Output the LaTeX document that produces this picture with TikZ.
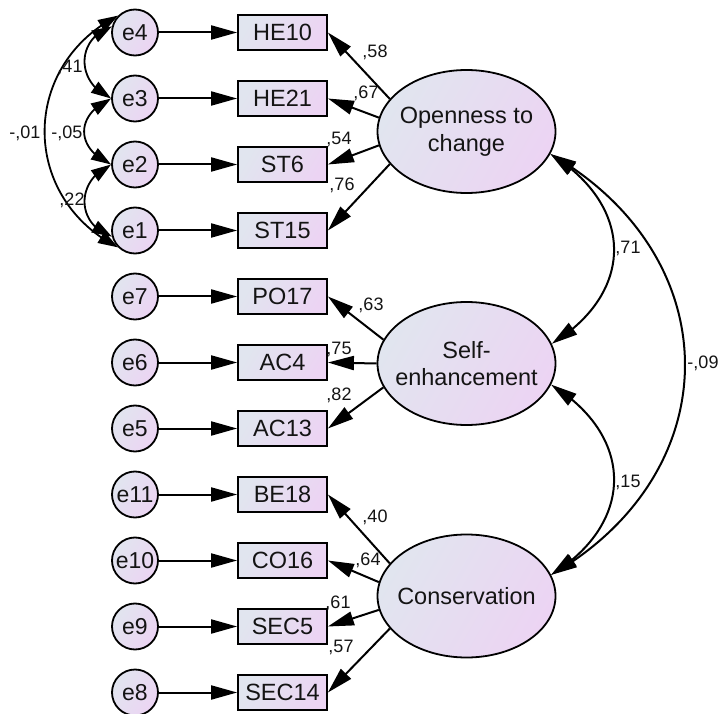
\documentclass[tikz,border=0pt]{standalone}
\usepackage{fontspec}
\setmainfont{Liberation Sans}
\usetikzlibrary{arrows.meta,bending,shapes.geometric}

\definecolor{amosblue}{RGB}{225,229,239}
\definecolor{amospink}{RGB}{236,212,243}
\definecolor{inkgray}{RGB}{20,20,20}

\tikzset{
  fillshade/.style={top color=amosblue, bottom color=amospink, shading angle=60},
  errnode/.style={circle, draw, line width=1.8pt, fillshade, minimum size=46pt, inner sep=0pt,
    font=\fontsize{23}{26}\selectfont, text=inkgray},
  obsnode/.style={rectangle, draw, line width=1.8pt, fillshade, minimum width=89pt, minimum height=35pt,
    inner sep=0pt, font=\fontsize{23.5}{26}\selectfont, text=inkgray},
  latnode/.style={ellipse, draw, line width=1.8pt, fillshade, minimum width=178pt, minimum height=123pt,
    inner sep=0pt},
  lattext/.style={align=center, font=\fontsize{23.5}{27.5}\selectfont, text=inkgray},
  coef/.style={font=\fontsize{18}{20}\selectfont, text=inkgray, inner sep=0pt},
  errarrow/.style={line width=2pt, arrows={-Triangle[length=26pt,width=14pt]}},
  load/.style={line width=2pt, arrows={-Triangle[length=26pt,width=14pt]}},
  covbig/.style={line width=2pt, arrows={Triangle[length=26pt,width=14pt]-Triangle[length=26pt,width=14pt]}},
  covsmall/.style={line width=1.8pt, arrows={Triangle[length=20pt,width=13pt]-Triangle[length=20pt,width=13pt]}},
}

\begin{document}
\begin{tikzpicture}[x=1pt,y=1pt]
\useasboundingbox (0,0) rectangle (718,-714);

% error terms
\foreach \n/\r in {e4/0,e3/1,e2/2,e1/3,e7/4,e6/5,e5/6,e11/7,e10/8,e9/9,e8/10}
  \node[errnode] (\n) at (135,{-32.5-66*\r}) {\n};

% observed indicators
\foreach \n/\t/\r in {he10/HE10/0,he21/HE21/1,st6/ST6/2,st15/ST15/3,po17/PO17/4,ac4/AC4/5,ac13/AC13/6,
                     be18/BE18/7,co16/CO16/8,sec5/SEC5/9,sec14/SEC14/10}
  \node[obsnode] (\n) at (282.5,{-32.5-66*\r}) {\t};

% latent factors
\node[latnode, label={[lattext, name=opentxt]center:Openness to\\change}] (open) at (466.5,-131.5) {};
\node[latnode, label={[lattext, name=selftxt]center:Self-\\enhancement}] (self) at (466.5,-363.5) {};
\node[latnode, label={[lattext, name=constxt]center:Conservation}] (cons) at (466.5,-596) {};

% error paths
\foreach \e/\o in {e4/he10,e3/he21,e2/st6,e1/st15,e7/po17,e6/ac4,e5/ac13,e11/be18,e10/co16,e9/sec5,e8/sec14}
  \draw[errarrow] (\e) -- (\o);

% factor loadings
\draw[load] (open.157.6) -- (he10.east);
\draw[load] (open.171.6) -- (he21.east);
\draw[load] (open.189) -- (st6.east);
\draw[load] (open.203.8) -- (st15.east);
\draw[load] (self.164.5) -- (po17.east);
\draw[load] (self.180) -- (ac4.east);
\draw[load] (self.196.8) -- (ac13.east);
\draw[load] (cons.157.6) -- (be18.east);
\draw[load] (cons.171.6) -- (co16.east);
\draw[load] (cons.189) -- (sec5.east);
\draw[load] (cons.203.8) -- (sec14.east);

% factor covariances
\draw[covbig] (open.-15) .. controls +(84,-52) and +(84,52) .. (self.13);
\draw[covbig] (self.-14) .. controls +(84,-52) and +(84,52) .. (cons.14);
\draw[covbig] (open.-15) .. controls +(179,-103) and +(179,103) .. (cons.14);

% error covariances
\draw[covsmall] (e4.165) .. controls +(-36,-12) and +(-36,16) .. (e3.180);
\draw[covsmall] (e3.180) .. controls +(-36,-16) and +(-36,16) .. (e2.180);
\draw[covsmall] (e2.180) .. controls +(-36,-16) and +(-36,12) .. (e1.195);
\draw[covsmall] (e4.135) .. controls +(-98,-50) and +(-98,50) .. (e1.225);

% coefficients
\node[coef] (c41) at (70,-67) {,41};
\node[coef] (c01) at (25,-133) {-,01};
\node[coef] (c05) at (67,-133) {-,05};
\node[coef] (c22) at (72,-200) {,22};

\node[coef] (c58) at (375,-52) {,58};
\node[coef] (c67) at (366,-93) {,67};
\node[coef] (c54) at (339,-139) {,54};
\node[coef] (c76) at (342,-185) {,76};

\node[coef] (c63) at (371,-305) {,63};
\node[coef] (c75) at (339,-349) {,75};
\node[coef] (c82) at (339,-395) {,82};

\node[coef] (c40) at (375,-517) {,40};
\node[coef] (c64) at (368,-560) {,64};
\node[coef] (c61) at (338,-603) {,61};
\node[coef] (c57) at (341,-647) {,57};

\node[coef] (c71) at (628,-248) {,71};
\node[coef] (c15) at (628,-482) {,15};
\node[coef] (c09) at (703,-363) {-,09};
\end{tikzpicture}
\end{document}
